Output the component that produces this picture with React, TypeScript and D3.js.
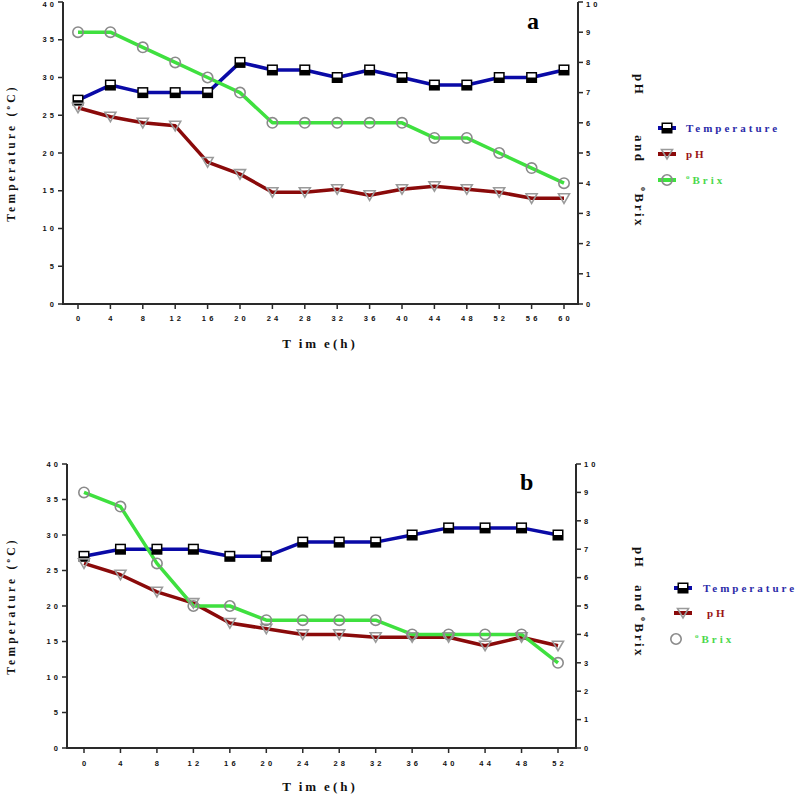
import React from "react";
import * as d3 from "d3";

// ---------- data ----------
const timesA = [0, 4, 8, 12, 16, 20, 24, 28, 32, 36, 40, 44, 48, 52, 56, 60];
const tempA = [27, 29, 28, 28, 28, 32, 31, 31, 30, 31, 30, 29, 29, 30, 30, 31];
const phA = [6.5, 6.2, 6.0, 5.9, 4.7, 4.3, 3.7, 3.7, 3.8, 3.6, 3.8, 3.9, 3.8, 3.7, 3.5, 3.5];
const brixA = [9, 9, 8.5, 8, 7.5, 7, 6, 6, 6, 6, 6, 5.5, 5.5, 5, 4.5, 4];

const timesB = [0, 4, 8, 12, 16, 20, 24, 28, 32, 36, 40, 44, 48, 52];
const tempB = [27, 28, 28, 28, 27, 27, 29, 29, 29, 30, 31, 31, 31, 30];
const phB = [6.5, 6.1, 5.5, 5.1, 4.4, 4.2, 4.0, 4.0, 3.9, 3.9, 3.9, 3.6, 3.9, 3.6];
const brixB = [9, 8.5, 6.5, 5, 5, 4.5, 4.5, 4.5, 4.5, 4, 4, 4, 4, 3];

const tempTicks = [0, 5, 10, 15, 20, 25, 30, 35, 40];
const rightTicks = [0, 1, 2, 3, 4, 5, 6, 7, 8, 9, 10];
const seriesNames = ["Temperature", "pH", "Brix"];

// ---------- styles ----------
const C_TEMP = "#0a0aa6";
const C_PH = "#8a0a0a";
const C_BRIX = "#3fe03f";
const AXIS = "#2a2a2a";
const SERIF = "'Liberation Serif', 'DejaVu Serif', serif";
const SANS = "'Liberation Sans', Arial, sans-serif";

type Layout = {
  xl: number; xr: number; yt: number; yb: number;
  x0: number; x1: number;
  tickY: number; titleY: number; leftTitleY: number;
  rl: { x: number; ph: number; and: number; brix: number };
  leg: { mx: number; l0: number; l1: number; tx: number; ys: number[]; brixOnlyMarker?: boolean; brixMx?: number; brixTx?: number; phTx?: number };
  letter: { x: number; y: number; t: string };
};

const layoutA: Layout = {
  xl: 63, xr: 578, yt: 2, yb: 304, x0: 78, x1: 564,
  tickY: 321, titleY: 348, leftTitleY: 153,
  rl: { x: 635, ph: 74, and: 135, brix: 187 },
  leg: { mx: 667, l0: 658, l1: 676, tx: 686, ys: [128, 154, 180] },
  letter: { x: 527, y: 29, t: "a" },
};

const layoutB: Layout = {
  xl: 67, xr: 576, yt: 464, yb: 748, x0: 84, x1: 558,
  tickY: 766, titleY: 791, leftTitleY: 606,
  rl: { x: 635, ph: 547, and: 585, brix: 617 },
  leg: { mx: 683, l0: 674, l1: 692, tx: 703, ys: [588, 613, 639], brixOnlyMarker: true, brixMx: 676, brixTx: 695, phTx: 707 },
  letter: { x: 520, y: 490, t: "b" },
};

function SquareMarker({ x, y }: { x: number; y: number }) {
  return (
    <g>
      <rect x={x - 5.5} y={y - 5.5} width={11} height={11} fill="#000" />
      <rect x={x - 4} y={y - 4} width={8} height={4} fill="#fff" />
    </g>
  );
}
function TriMarker({ x, y }: { x: number; y: number }) {
  return (
    <path d={`M${x - 5.5},${y - 4.5}L${x + 5.5},${y - 4.5}L${x},${y + 5}Z`} fill="none" stroke="#9a9a9a" strokeWidth={1.6} />
  );
}
function CircMarker({ x, y }: { x: number; y: number }) {
  return <circle cx={x} cy={y} r={5.2} fill="none" stroke="#8a8a8a" strokeWidth={1.6} />;
}

function Panel({ L, times, temp, ph, brix }: { L: Layout; times: number[]; temp: number[]; ph: number[]; brix: number[] }) {
  const xMax = times[times.length - 1];
  const x = d3.scaleLinear().domain([0, xMax]).range([L.x0, L.x1]);
  const yL = d3.scaleLinear().domain([0, 40]).range([L.yb, L.yt]);
  const yR = d3.scaleLinear().domain([0, 10]).range([L.yb, L.yt]);

  const lineL = d3.line<number>().x((_, i) => x(times[i])).y((v) => yL(v));
  const lineR = d3.line<number>().x((_, i) => x(times[i])).y((v) => yR(v));

  const tickFont = { fontFamily: SANS, fontWeight: 700, fontSize: 7.5, fill: "#111" } as const;
  const ls = 3.2;
  const ty = (v: number) => Math.max(v + 2.7, 7);

  return (
    <g>
      {/* axes */}
      <line x1={L.xl} x2={L.xl} y1={L.yt} y2={L.yb} stroke={AXIS} strokeWidth={2} />
      <line x1={L.xr} x2={L.xr} y1={L.yt} y2={L.yb} stroke={AXIS} strokeWidth={2} />
      <line x1={L.xl - 1} x2={L.xr + 1} y1={L.yb} y2={L.yb} stroke={AXIS} strokeWidth={2} />
      {tempTicks.map((t) => (
        <g key={"l" + t}>
          <line x1={L.xl - 5} x2={L.xl} y1={yL(t)} y2={yL(t)} stroke={AXIS} strokeWidth={1.5} />
          <text x={L.xl - 9 + ls} y={ty(yL(t))} textAnchor="end" letterSpacing={ls} {...tickFont}>{t}</text>
        </g>
      ))}
      {rightTicks.map((t) => (
        <g key={"r" + t}>
          <line x1={L.xr} x2={L.xr + 5} y1={yR(t)} y2={yR(t)} stroke={AXIS} strokeWidth={1.5} />
          <text x={L.xr + 8} y={ty(yR(t))} textAnchor="start" letterSpacing={ls} {...tickFont}>{t}</text>
        </g>
      ))}
      {times.map((t) => (
        <g key={"x" + t}>
          <line x1={x(t)} x2={x(t)} y1={L.yb} y2={L.yb + 5} stroke={AXIS} strokeWidth={1.5} />
          <text x={x(t) + ls / 2} y={L.tickY} textAnchor="middle" letterSpacing={ls} {...tickFont}>{t}</text>
        </g>
      ))}

      {/* titles */}
      <text x={320} y={L.titleY} textAnchor="middle" fontFamily={SERIF} fontWeight={700} fontSize={13} letterSpacing={3} fill="#111">
        <tspan>T</tspan><tspan dx={5}>im</tspan><tspan dx={5}>e(h)</tspan>
      </text>
      <text transform={`translate(15,${L.leftTitleY}) rotate(-90)`} textAnchor="middle" fontFamily={SERIF} fontWeight={700} fontSize={11.5} letterSpacing={3.2} fill="#111">
        Temperature (<tspan fontSize={7} dy={-5}>o</tspan><tspan dy={5}>C)</tspan>
      </text>
      <g fontFamily={SERIF} fontWeight={700} fontSize={13} letterSpacing={2.5} fill="#111">
        <text transform={`translate(${L.rl.x},${L.rl.ph}) rotate(90)`}>pH</text>
        <text transform={`translate(${L.rl.x},${L.rl.and}) rotate(90)`}>and</text>
        <text transform={`translate(${L.rl.x},${L.rl.brix}) rotate(90)`}>
          <tspan fontSize={8} dy={-6}>o</tspan><tspan dy={6}>Brix</tspan>
        </text>
      </g>

      {/* letter */}
      <text x={L.letter.x} y={L.letter.y} fontFamily={SERIF} fontWeight={700} fontSize={24} fill="#000">{L.letter.t}</text>

      {/* lines */}
      <path d={lineL(temp) || ""} fill="none" stroke={C_TEMP} strokeWidth={3.5} strokeLinejoin="round" />
      <path d={lineR(ph) || ""} fill="none" stroke={C_PH} strokeWidth={3.5} strokeLinejoin="round" />
      <path d={lineR(brix) || ""} fill="none" stroke={C_BRIX} strokeWidth={3.5} strokeLinejoin="round" />

      {/* markers */}
      {temp.map((v, i) => <SquareMarker key={"ts" + i} x={x(times[i])} y={yL(v)} />)}
      {ph.map((v, i) => <TriMarker key={"pt" + i} x={x(times[i])} y={yR(v)} />)}
      {brix.map((v, i) => <CircMarker key={"bc" + i} x={x(times[i])} y={yR(v)} />)}

      {/* legend */}
      <g fontFamily={SERIF} fontWeight={700} fontSize={11} letterSpacing={3}>
        <line x1={L.leg.l0} x2={L.leg.l1} y1={L.leg.ys[0]} y2={L.leg.ys[0]} stroke={C_TEMP} strokeWidth={4} />
        <SquareMarker x={L.leg.mx} y={L.leg.ys[0]} />
        <text x={L.leg.tx} y={L.leg.ys[0] + 4} fill="#2b2ba8">{seriesNames[0]}</text>

        <line x1={L.leg.l0} x2={L.leg.l1} y1={L.leg.ys[1]} y2={L.leg.ys[1]} stroke={C_PH} strokeWidth={4} />
        <TriMarker x={L.leg.mx} y={L.leg.ys[1]} />
        <text x={L.leg.phTx ?? L.leg.tx} y={L.leg.ys[1] + 4} fill="#9a1414">{seriesNames[1]}</text>

        {!L.leg.brixOnlyMarker && (
          <line x1={L.leg.l0} x2={L.leg.l1} y1={L.leg.ys[2]} y2={L.leg.ys[2]} stroke={C_BRIX} strokeWidth={4} />
        )}
        <CircMarker x={L.leg.brixMx ?? L.leg.mx} y={L.leg.ys[2]} />
        <text x={L.leg.brixTx ?? L.leg.tx} y={L.leg.ys[2] + 4} fill="#4bd84b">
          <tspan fontSize={7} dy={-5}>o</tspan><tspan dy={5}>{seriesNames[2]}</tspan>
        </text>
      </g>
    </g>
  );
}

export default function App() {
  return (
    <svg width={800} height={795} style={{ position: "absolute", left: 0, top: 0, background: "#fff" }}>
      <rect width={800} height={795} fill="#fff" />
      <Panel L={layoutA} times={timesA} temp={tempA} ph={phA} brix={brixA} />
      <Panel L={layoutB} times={timesB} temp={tempB} ph={phB} brix={brixB} />
    </svg>
  );
}
